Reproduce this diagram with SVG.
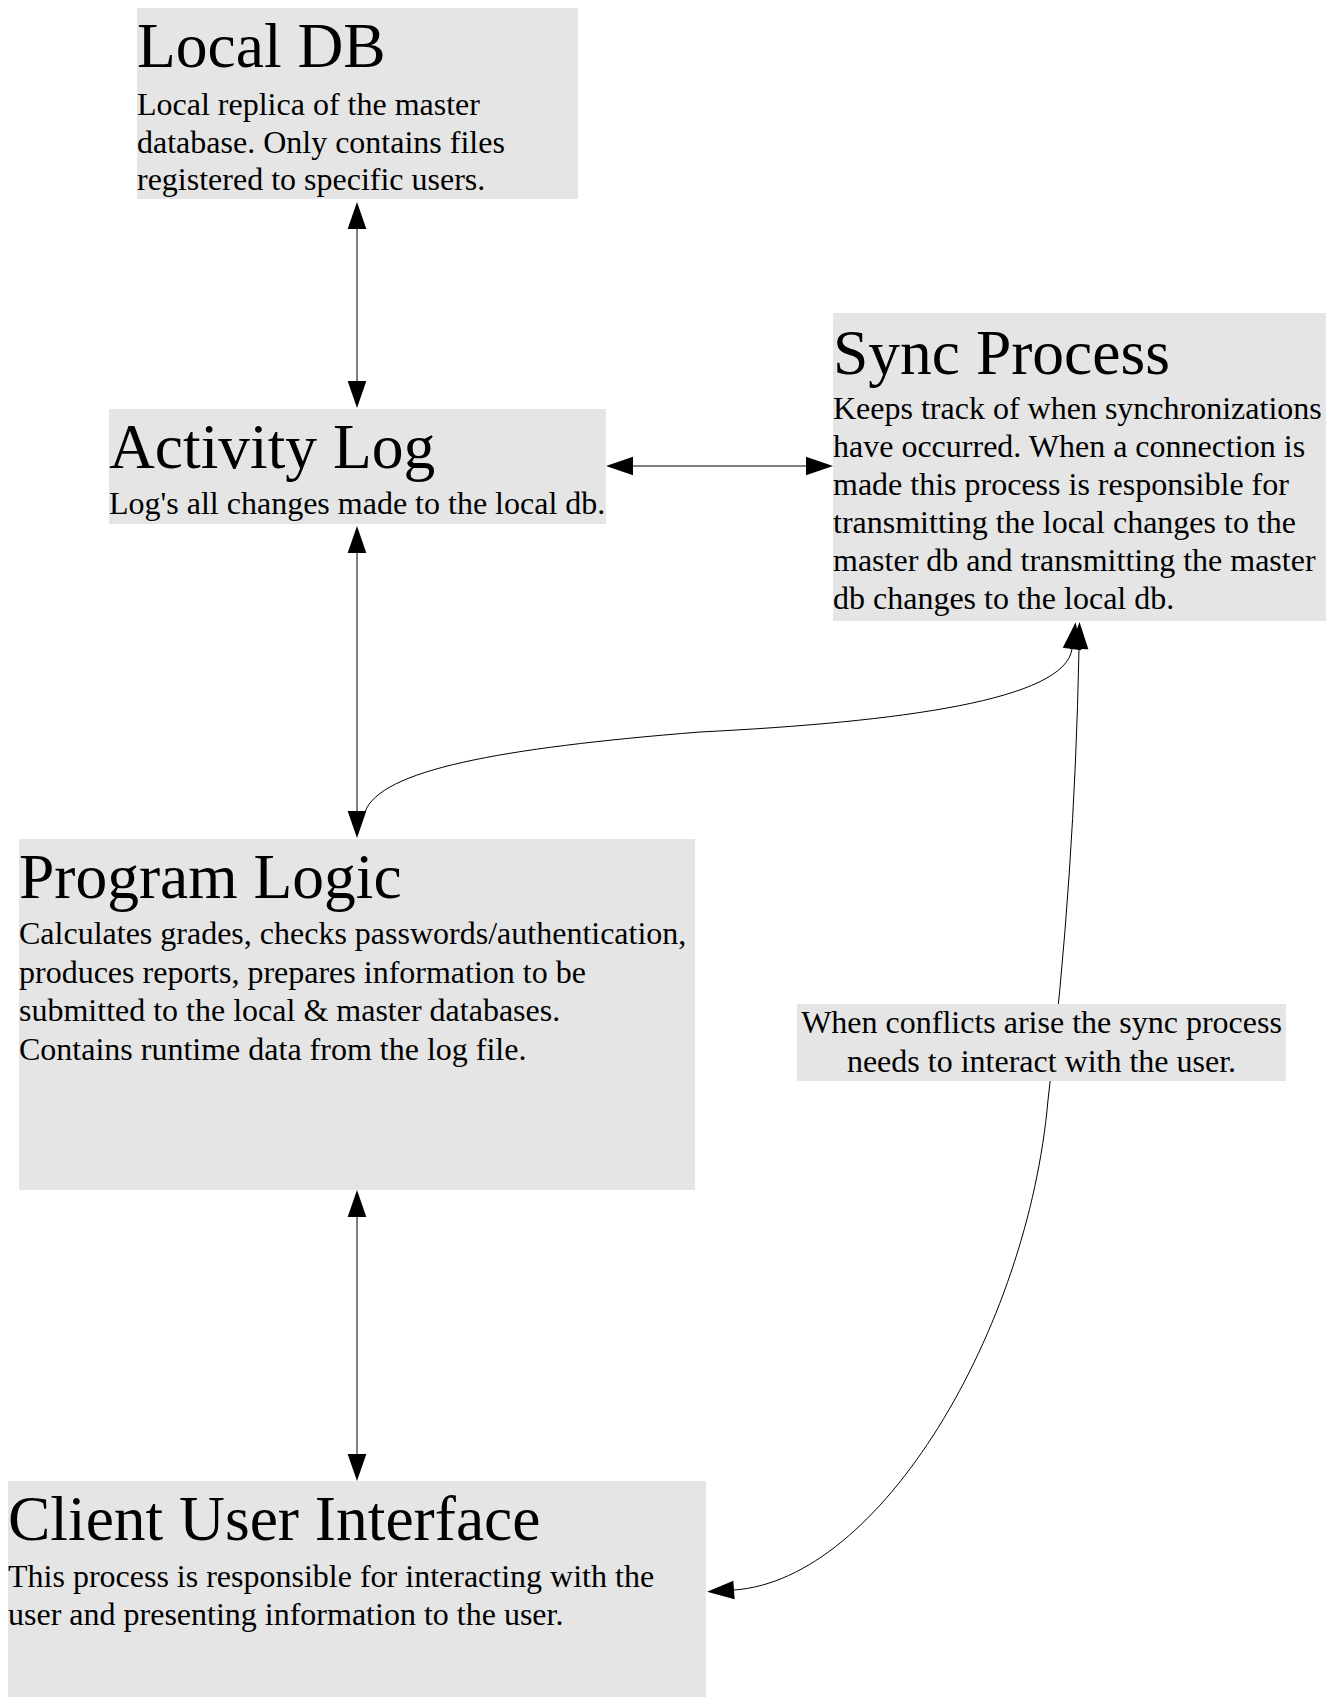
<svg xmlns="http://www.w3.org/2000/svg" width="1334" height="1697" viewBox="0 0 1334 1697">
<style>
  .box { fill: #e5e5e5; stroke: none; }
  .title { font-family: "Liberation Serif", "Times New Roman", serif; font-size: 63.5px; fill: #000; }
  .body { font-family: "Liberation Serif", "Times New Roman", serif; font-size: 32px; fill: #000; }
  .lbl { font-family: "Liberation Serif", "Times New Roman", serif; font-size: 32px; fill: #000; text-anchor: middle; }
  .edge { fill: none; stroke: #000; stroke-width: 1; }
</style>
<defs>
  <marker id="ah" markerWidth="27" markerHeight="19" refX="0" refY="9.35" orient="auto-start-reverse" markerUnits="userSpaceOnUse" overflow="visible">
    <path d="M0,0 L27,9.35 L0,18.7 Z" fill="#000"/>
  </marker>
</defs>
<rect x="0" y="0" width="1334" height="1697" fill="#fff"/>

<g id="connectors">
  <path id="e-localdb-activity" class="edge" d="M357,229 L357,381" marker-start="url(#ah)" marker-end="url(#ah)"/>
  <path id="e-activity-sync" class="edge" d="M633,466 L806,466" marker-start="url(#ah)" marker-end="url(#ah)"/>
  <path id="e-activity-program" class="edge" d="M357,553 L357,811" marker-start="url(#ah)" marker-end="url(#ah)"/>
  <path id="e-program-client" class="edge" d="M357,1217 L357,1454" marker-start="url(#ah)" marker-end="url(#ah)"/>
  <path id="e-program-sync" class="edge" d="M365,812 C380,770 500,748 700,732 C900,722 1065,700 1072,649" marker-end="url(#ah)"/>
  <path id="e-sync-client" class="edge" d="M1079,649 C1076,800 1066,950 1048,1100 C1028,1330 880,1580 734,1590" marker-start="url(#ah)" marker-end="url(#ah)"/>
  <g id="e-sync-client-label">
    <rect class="box" x="797" y="1004" width="489" height="77"/>
    <text class="lbl" x="1041.5" y="1033">When conflicts arise the sync process</text>
    <text class="lbl" x="1041.5" y="1071.5">needs to interact with the user.</text>
  </g>
</g>

<g id="node-localdb">
  <rect class="box" x="137" y="8" width="441" height="191"/>
  <text class="title" x="137" y="67">Local DB</text>
  <text class="body" x="137" y="115">Local replica of the master</text>
  <text class="body" x="137" y="153">database. Only contains files</text>
  <text class="body" x="137" y="190">registered to specific users.</text>
</g>

<g id="node-activitylog">
  <rect class="box" x="109" y="409" width="497" height="115"/>
  <text class="title" x="109" y="468">Activity Log</text>
  <text class="body" x="109" y="514">Log's all changes made to the local db.</text>
</g>

<g id="node-sync">
  <rect class="box" x="833" y="313" width="493" height="308"/>
  <text class="title" x="833" y="374">Sync Process</text>
  <text class="body" x="833" y="419">Keeps track of when synchronizations</text>
  <text class="body" x="833" y="457">have occurred. When a connection is</text>
  <text class="body" x="833" y="495">made this process is responsible for</text>
  <text class="body" x="833" y="533">transmitting the local changes to the</text>
  <text class="body" x="833" y="571">master db and transmitting the master</text>
  <text class="body" x="833" y="609">db changes to the local db.</text>
</g>

<g id="node-programlogic">
  <rect class="box" x="19" y="839" width="676" height="351"/>
  <text class="title" x="19" y="898">Program Logic</text>
  <text class="body" x="19" y="944">Calculates grades, checks passwords/authentication,</text>
  <text class="body" x="19" y="982.5">produces reports, prepares information to be</text>
  <text class="body" x="19" y="1021">submitted to the local &amp; master databases.</text>
  <text class="body" x="19" y="1059.5">Contains runtime data from the log file.</text>
</g>

<g id="node-client">
  <rect class="box" x="8" y="1481" width="698" height="240"/>
  <text class="title" x="8" y="1540">Client User Interface</text>
  <text class="body" x="8" y="1587">This process is responsible for interacting with the</text>
  <text class="body" x="8" y="1625">user and presenting information to the user.</text>
</g>
</svg>
